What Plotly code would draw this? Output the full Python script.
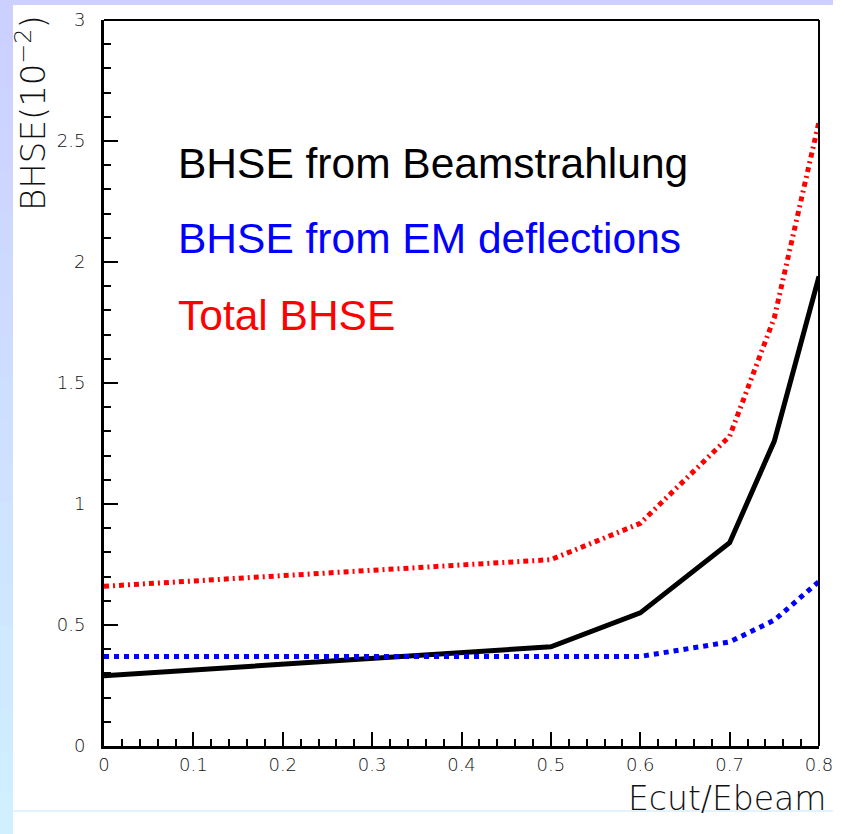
import plotly.graph_objects as go

# ---------------- data ----------------
ecut = [0.0, 0.5, 0.6, 0.7, 0.75, 0.8]
bhse_beamstrahlung = [0.29, 0.41, 0.55, 0.84, 1.26, 1.94]
bhse_em = [0.37, 0.37, 0.37, 0.43, 0.52, 0.68]
bhse_total = [0.66, 0.77, 0.92, 1.28, 1.77, 2.58]

labels = ["BHSE from Beamstrahlung", "BHSE from EM deflections", "Total BHSE"]
colors = ["#000000", "#0000ff", "#ff0000"]
xtick_vals = [0, 0.1, 0.2, 0.3, 0.4, 0.5, 0.6, 0.7, 0.8]
xtick_text = ["0", "0.1", "0.2", "0.3", "0.4", "0.5", "0.6", "0.7", "0.8"]
ytick_vals = [0, 0.5, 1, 1.5, 2, 2.5, 3]
ytick_text = ["0", "0.5", "1", "1.5", "2", "2.5", "3"]

W, H = 845, 834
VIS_W = 833                      # width the page actually lays the figure out at
L, R, T, B = 104, 819, 20, 746   # plot area in pixels


def px(x):
    return (x - L) / (R - L)


def py(y):
    return (B - y) / (B - T)


fig = go.Figure()
fig.add_trace(go.Scatter(x=ecut, y=bhse_beamstrahlung, mode="lines",
                         line=dict(color=colors[0], width=5), showlegend=False))
fig.add_trace(go.Scatter(x=ecut, y=bhse_em, mode="lines",
                         line=dict(color=colors[1], width=5, dash="dot"), showlegend=False))
fig.add_trace(go.Scatter(x=ecut, y=bhse_total, mode="lines",
                         line=dict(color=colors[2], width=5, dash="5px,4px,2px,4px"),
                         showlegend=False))

thin = dict(family="DejaVu Sans", color="#111111", weight=200)

fig.update_layout(
    width=VIS_W, height=H, autosize=False,
    margin=dict(l=L, r=VIS_W - R, t=T, b=H - B, pad=0, autoexpand=False),
    paper_bgcolor="white", plot_bgcolor="white",
    xaxis=dict(range=[0, 0.8], tickvals=xtick_vals, ticktext=xtick_text,
               ticks="inside", ticklen=14, tickwidth=2, tickcolor="black",
               minor=dict(dtick=0.02, ticks="inside", ticklen=7, tickwidth=2, tickcolor="black"),
               showgrid=False, zeroline=False, showline=True, linecolor="black", linewidth=3,
               tickfont=dict(size=18, **thin), ticklabeloverflow="allow", automargin=False),
    yaxis=dict(range=[0, 3], tickvals=ytick_vals, ticktext=ytick_text,
               ticks="inside", ticklen=14, tickwidth=2, tickcolor="black",
               minor=dict(dtick=0.1, ticks="inside", ticklen=7, tickwidth=2, tickcolor="black"),
               showgrid=False, zeroline=False, showline=True, linecolor="black", linewidth=3,
               tickfont=dict(size=18, **thin), ticklabelstandoff=12, automargin=False),
)

# frame top/right
fig.add_shape(type="line", xref="paper", yref="paper", x0=0, x1=1, y0=1, y1=1,
              line=dict(color="black", width=2))
fig.add_shape(type="line", xref="paper", yref="paper", x0=1, x1=1, y0=0, y1=1,
              line=dict(color="black", width=2))

# slide background strips
fig.add_shape(type="rect", xref="paper", yref="paper", x0=px(0), x1=px(W), y0=py(5), y1=py(0),
              fillcolor="#ccd0ff", line_width=0, layer="below")
n = 20
for i in range(n):
    t = i / (n - 1)
    r = int(0xcc + (0xd0 - 0xcc) * t)
    g = int(0xd0 + (0xf0 - 0xd0) * t)
    b = 0xff
    y0 = 5 + (H - 5) * i / n
    y1 = 5 + (H - 5) * (i + 1) / n + 1
    fig.add_shape(type="rect", xref="paper", yref="paper", x0=px(0), x1=px(13),
                  y0=py(y1), y1=py(y0), fillcolor=f"rgb({r},{g},{b})", line_width=0,
                  layer="below")
fig.add_shape(type="line", xref="paper", yref="paper", x0=px(13), x1=px(W), y0=py(811), y1=py(811),
              line=dict(color="#d8f0f8", width=1.5))

# text labels
baselines = [178, 253, 330]
for lab, col, bl in zip(labels, colors, baselines):
    fig.add_annotation(text=lab, xref="paper", yref="paper", x=px(176), y=py(bl - 15),
                       xanchor="left", yanchor="middle", showarrow=False,
                       font=dict(family="Liberation Sans", size=42.5, color=col))

# axis titles
fig.add_annotation(text="Ecut/Ebeam", xref="paper", yref="paper", x=px(828), y=py(777),
                   xanchor="right", yanchor="top", showarrow=False,
                   font=dict(size=33, **thin))
fig.add_annotation(text="BHSE(10<sup>−2</sup>)", xref="paper", yref="paper", x=px(31), y=py(13),
                   xanchor="center", yanchor="top", textangle=-90, showarrow=False,
                   font=dict(size=34, **thin))

fig.write_html("out.html", config={"responsive": False})
